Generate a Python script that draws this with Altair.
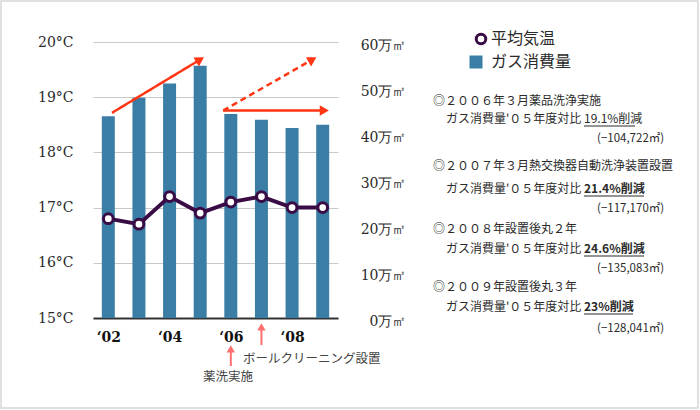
import math
import altair as alt
import pandas as pd

# ---------------- data ----------------
years = [2002, 2003, 2004, 2005, 2006, 2007, 2008, 2009]
gas_m3 = [438500, 479000, 510000, 548283, 443561, 431113, 413200, 420242]
temp_c = [16.8, 16.7, 17.2, 16.9, 17.1, 17.2, 17.0, 17.0]
series_names = ["平均気温", "ガス消費量"]

year_ticks = [2002, 2004, 2006, 2008]
temp_ticks = [15, 16, 17, 18, 19, 20]
gas_ticks = [0, 100000, 200000, 300000, 400000, 500000, 600000]

note_heads = ["◎２００６年３月薬品洗浄実施",
              "◎２００７年３月熱交換器自動洗浄装置設置",
              "◎２００８年設置後丸２年",
              "◎２００９年設置後丸３年"]
note_prefix = "ガス消費量'０５年度対比"
note_pcts = ["19.1%削減", "21.4%削減", "24.6%削減", "23%削減"]
note_pct_bold = [False, True, True, True]
note_amounts = ["(−104,722㎡)", "(−117,170㎡)", "(−135,083㎡)", "(−128,041㎡)"]

event_years = [2006, 2007]
event_labels = ["薬洗実施", "ボールクリーニング設置"]

trend_start_year = [2002.12, 2005.75, 2005.75]
trend_start_gas = [446000, 451000, 451000]
trend_tip_year = [2005.08, 2008.75, 2009.15]
trend_tip_gas = [565000, 565000, 451000]
trend_style = ["solid", "dashed", "solid"]

# ---------------- layout / style ----------------
W, H = 245, 276
LEFT, TOP = 93, 42
X_DOM = [2001.5, 2009.5]
G_DOM = [0, 600000]
T_DOM = [15, 20]
PX_YEAR = W / (X_DOM[1] - X_DOM[0])
PX_GAS = H / (G_DOM[1] - G_DOM[0])


def data_x(px):
    return X_DOM[0] + (px - LEFT) / PX_YEAR


def data_y(py):
    return G_DOM[0] + (TOP + H - py) / PX_GAS


FRAME_PX = (1, 1, 698, 408)

NOTE_HEAD_X, NOTE_PREFIX_X, NOTE_PCT_X, NOTE_AMT_X = 433, 446, 584, 597
note_head_py = [101, 166, 229, 287]
note_line_py = [119, 189, 249, 307]
note_amt_py = [139, 209, 269, 329]
note_ul_end_px = [635, 644, 644, 633]
UL_DY = 7

event_arrow_top_py = [347, 325]
event_arrow_bot_py = [366, 345]
event_label_px = [228, 243]
event_label_py = [377, 359]

BLUE = "#3a7ea6"
PURPLE = "#3a0c45"
RED = "#ff3514"
PINK = "#ff6f6f"
TEXT = "#2a2a2a"
SERIF = "DejaVu Serif"
SANS = "Noto Sans CJK JP"

XS = alt.Scale(domain=X_DOM, nice=False, zero=False, padding=0)
GS = alt.Scale(domain=G_DOM, nice=False, zero=False)
TS = alt.Scale(domain=T_DOM, nice=False, zero=False)

XA = alt.Axis(
    values=year_ticks, labelExpr="'‘' + substring(toString(datum.value), 2)",
    title=None, grid=False, ticks=False, tickSize=0, domain=True,
    domainColor="#333333", domainWidth=2, labelFont=SERIF, labelFontSize=14,
    labelFontWeight="bold", labelColor="#111111", labelPadding=12, labelAngle=0)


def X(field):
    return alt.X(field, scale=XS, axis=XA)


def YG(field):
    return alt.Y(field, scale=GS, axis=None)


# ---------------- tables ----------------
df_gas = pd.DataFrame({"year": years, "gas": gas_m3, "series": series_names[1]})
df_temp = pd.DataFrame({"year": years, "temp": temp_c, "series": series_names[0]})

tr_rows = []
for i in range(len(trend_style)):
    dx = (trend_tip_year[i] - trend_start_year[i]) * PX_YEAR
    dy = (trend_tip_gas[i] - trend_start_gas[i]) * PX_GAS
    L = math.hypot(dx, dy)
    ux, uy = dx / L, dy / L
    back = 4.5
    hx = trend_tip_year[i] - ux * back / PX_YEAR
    hy = trend_tip_gas[i] - uy * back / PX_GAS
    ang = math.degrees(math.atan2(dx, dy)) % 360
    tr_rows.append({"x1": trend_start_year[i], "y1": trend_start_gas[i],
                    "x2": hx, "y2": hy, "ang": ang, "style": trend_style[i]})
df_trend = pd.DataFrame(tr_rows)

df_ev = pd.DataFrame({
    "year": event_years,
    "top": [data_y(p + 3) for p in event_arrow_top_py],
    "bot": [data_y(p) for p in event_arrow_bot_py],
    "lx": [data_x(p) for p in event_label_px],
    "ly": [data_y(p) for p in event_label_py],
    "label": event_labels,
    "align": ["center", "left"],
})

note_rows = []
ul_rows = []
for i in range(len(note_heads)):
    note_rows.append({"x": data_x(NOTE_HEAD_X), "y": data_y(note_head_py[i]), "text": note_heads[i], "bold": False, "size": "n"})
    note_rows.append({"x": data_x(NOTE_PREFIX_X), "y": data_y(note_line_py[i]), "text": note_prefix, "bold": False, "size": "n"})
    note_rows.append({"x": data_x(NOTE_PCT_X), "y": data_y(note_line_py[i]), "text": note_pcts[i], "bold": note_pct_bold[i], "size": "n"})
    note_rows.append({"x": data_x(NOTE_AMT_X), "y": data_y(note_amt_py[i]), "text": note_amounts[i], "bold": False, "size": "s"})
    ul_rows.append({"x1": data_x(NOTE_PCT_X), "x2": data_x(note_ul_end_px[i]),
                    "y": data_y(note_line_py[i] + UL_DY), "bold": note_pct_bold[i]})
df_notes = pd.DataFrame(note_rows)
df_ul = pd.DataFrame(ul_rows)

df_frame = pd.DataFrame({"x1": [data_x(FRAME_PX[0])], "x2": [data_x(FRAME_PX[2])],
                         "y1": [data_y(FRAME_PX[1])], "y2": [data_y(FRAME_PX[3])]})

# ---------------- layers ----------------
frame = alt.Chart(df_frame).mark_rect(fill="white", fillOpacity=0, stroke="#d6d6d6",
                                      strokeWidth=1.5).encode(
    x=X("x1:Q"), x2="x2:Q", y=YG("y1:Q"), y2="y2:Q")

bars = alt.Chart(df_gas).mark_bar(size=13).encode(
    x=X("year:Q"),
    y=alt.Y("gas:Q", scale=GS, axis=alt.Axis(
        orient="right", values=gas_ticks, labelExpr="(datum.value/10000) + '万㎡'",
        title=None, grid=False, ticks=False, tickSize=0, domain=False,
        labelAlign="right", labelPadding=68, labelOffset=3, labelFont=SERIF,
        labelFontSize=14, labelColor=TEXT)),
    fill=alt.Fill("series:N", scale=alt.Scale(domain=[series_names[1]], range=[BLUE]),
                  legend=alt.Legend(orient="none", legendX=375, legendY=12, title=None,
                                    symbolType="square", symbolSize=169, symbolStrokeWidth=0,
                                    labelFont=SANS, labelFontSize=16, labelColor=TEXT,
                                    labelOffset=7, padding=0)),
)

line = alt.Chart(df_temp).mark_line(color=PURPLE, strokeWidth=4).encode(
    x=X("year:Q"),
    y=alt.Y("temp:Q", scale=TS, axis=None),
)

points = alt.Chart(df_temp).mark_point(shape="circle", size=95, strokeWidth=3,
                                       fill="white", opacity=1).encode(
    x=X("year:Q"),
    y=alt.Y("temp:Q", scale=TS, axis=alt.Axis(
        orient="left", values=temp_ticks, labelExpr="datum.value + '°C'",
        title=None, grid=True, gridColor="#c8c8c8", gridWidth=1, ticks=False,
        tickSize=0, domain=False, labelPadding=20, labelFont=SERIF,
        labelFontSize=14, labelColor=TEXT)),
    stroke=alt.Stroke("series:N", scale=alt.Scale(domain=[series_names[0]], range=[PURPLE]),
                      legend=alt.Legend(orient="none", legendX=380, legendY=-11, title=None,
                                        symbolType="circle", symbolSize=90, symbolStrokeWidth=3,
                                        labelFont=SANS, labelFontSize=16, labelColor=TEXT,
                                        labelOffset=2, padding=0)),
)

trend_lines = alt.Chart(df_trend).mark_rule(color=RED, strokeWidth=2.5).encode(
    x=X("x1:Q"), x2="x2:Q",
    y=YG("y1:Q"), y2="y2:Q",
    strokeDash=alt.StrokeDash("style:N", scale=alt.Scale(domain=["solid", "dashed"], range=[[1, 0], [6, 4]]), legend=None),
)

trend_heads = alt.Chart(df_trend).mark_point(shape="triangle", filled=True, size=110,
                                             color=RED, opacity=1).encode(
    x=X("x2:Q"),
    y=YG("y2:Q"),
    angle=alt.Angle("ang:Q", scale=None),
)

ev_lines = alt.Chart(df_ev).mark_rule(color=PINK, strokeWidth=2).encode(
    x=X("year:Q"),
    y=YG("bot:Q"), y2="top:Q",
)

ev_heads = alt.Chart(df_ev).mark_point(shape="triangle", filled=True, size=70,
                                       color=PINK, opacity=1).encode(
    x=X("year:Q"),
    y=YG("top:Q"),
)

ev_lab_c = alt.Chart(df_ev).transform_filter("datum.align == 'center'").mark_text(
    align="center", baseline="middle", font=SANS, fontSize=12.5, color="#444444").encode(
    x=X("lx:Q"), y=YG("ly:Q"), text="label:N")

ev_lab_l = alt.Chart(df_ev).transform_filter("datum.align == 'left'").mark_text(
    align="left", baseline="middle", font=SANS, fontSize=12.5, color="#444444").encode(
    x=X("lx:Q"), y=YG("ly:Q"), text="label:N")

notes_n = alt.Chart(df_notes).transform_filter("!datum.bold && datum.size == 'n'").mark_text(
    align="left", baseline="middle", font=SANS, fontSize=12, color=TEXT).encode(
    x=X("x:Q"), y=YG("y:Q"), text="text:N")

notes_s = alt.Chart(df_notes).transform_filter("datum.size == 's'").mark_text(
    align="left", baseline="middle", font=SANS, fontSize=11.5, color=TEXT).encode(
    x=X("x:Q"), y=YG("y:Q"), text="text:N")

notes_b = alt.Chart(df_notes).transform_filter("datum.bold").mark_text(
    align="left", baseline="middle", font=SANS, fontSize=12, fontWeight="bold", color=TEXT).encode(
    x=X("x:Q"), y=YG("y:Q"), text="text:N")

underlines = alt.Chart(df_ul).mark_rule(color=TEXT, strokeWidth=1).encode(
    x=X("x1:Q"), x2="x2:Q",
    y=YG("y:Q"),
    strokeWidth=alt.StrokeWidth("bold:N", scale=alt.Scale(domain=[False, True], range=[1, 1.6]), legend=None),
)

chart = alt.layer(
    frame, bars, line, points, trend_lines, trend_heads, ev_lines, ev_heads,
    ev_lab_c, ev_lab_l, notes_n, notes_s, notes_b, underlines,
).resolve_scale(y="independent").properties(
    width=W, height=H,
    autosize=alt.AutoSizeParams(type="none"),
    padding={"left": LEFT, "top": TOP, "right": 700 - LEFT - W, "bottom": 410 - TOP - H},
    background="white",
).configure_view(stroke=None)

chart.save("out.html", embed_options={"renderer": "svg", "actions": False})
